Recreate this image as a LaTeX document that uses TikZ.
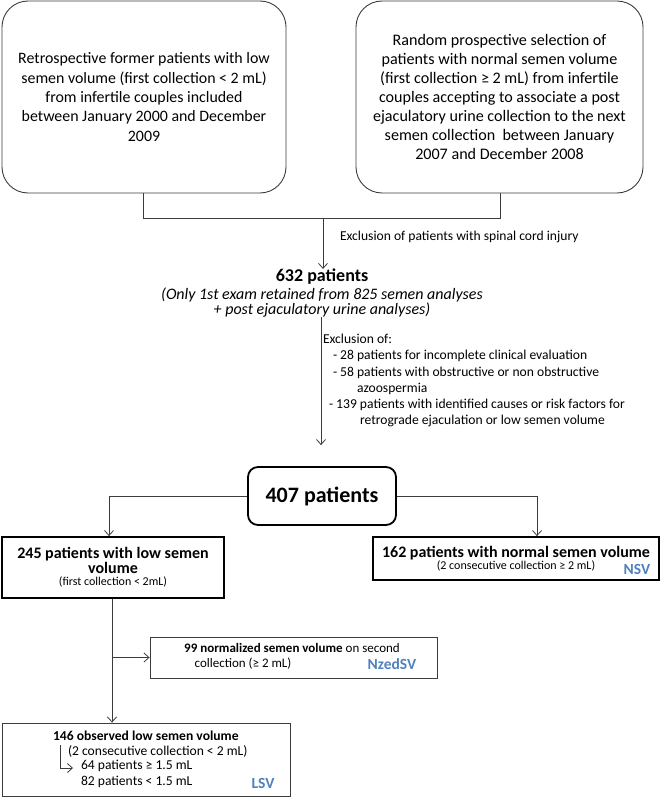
\documentclass[tikz,border=0pt]{standalone}
\usepackage{fontspec}
\setmainfont{Carlito}
\usetikzlibrary{arrows.meta}
\definecolor{lblblue}{RGB}{79,129,189}
\definecolor{linegray}{RGB}{60,60,60}
\newcommand{\fs}[2]{\fontsize{#1}{#2}\selectfont}
\tikzset{
  topbox/.style={draw=linegray, line width=0.9pt, rounded corners=26pt, align=center, inner sep=0pt},
  thickbox/.style={draw=black, line width=1.8pt, align=center, inner sep=0pt},
  thinbox/.style={draw=linegray, line width=0.9pt, inner sep=0pt},
  conn/.style={draw=linegray, line width=0.8pt},
  arr/.style={conn, -{Straight Barb[length=5pt,width=9pt]}},
  txt/.style={inner sep=0pt, outer sep=0pt},
  tag/.style={txt, text=lblblue, font=\fs{15.5}{18}\bfseries},
}
\begin{document}
\begin{tikzpicture}[x=1pt,y=-1pt]
\useasboundingbox (0,0) rectangle (660,797);
% top boxes
\node[topbox, minimum width=284pt, minimum height=192pt, font=\fs{15.9}{19.3}] (retro) at (144,97)
  {Retrospective former patients with low\\ semen volume (first collection < 2 mL)\\ from infertile couples included\\ between January 2000 and December\\ 2009};
\node[topbox, minimum width=287pt, minimum height=192pt, font=\fs{16.1}{19}] (prosp) at (499.5,97)
  {Random prospective selection of\\ patients with normal semen volume\\ (first collection ≥ 2 mL) from infertile\\ couples accepting to associate a post\\ ejaculatory urine collection to the next\\ semen collection \ between January\\ 2007 and December 2008};
% merge bracket
\coordinate (jl) at (143,218);
\coordinate (jr) at (500,218);
\coordinate (jm) at (323,218);
\draw[conn] (retro.south -| jl) -- (jl) -- (jr) -- (prosp.south -| jr);
\node[txt, anchor=west, font=\fs{13.6}{15}] (excl1) at (340,237) {Exclusion of patients with spinal cord injury};
% 632
\node[txt, align=center] (n632) at (322,293)
  {{\fs{18}{20}\bfseries 632 patients}\\[2pt]
   {\fs{16}{19.5}\itshape (Only 1st exam retained from 825 semen analyses}\\
   {\fs{16}{19.5}\itshape + post ejaculatory urine analyses)}};
\draw[arr] (jm) -- (jm |- n632.north);
% exclusion list
\node[txt, anchor=north west, align=left, font=\fs{13.6}{16.3}] (excl2) at (323,334)
  {Exclusion of:\\
   \hspace*{10pt}- 28 patients for incomplete clinical evaluation\\
   \hspace*{10pt}- 58 patients with obstructive or non obstructive\\
   \hspace*{34pt}azoospermia\\
   \hspace*{6pt}- 139 patients with identified causes or risk factors for\\
   \hspace*{37pt}retrograde ejaculation or low semen volume};
% 407
\node[thickbox, rounded corners=10pt, minimum width=148pt, minimum height=58pt, font=\fs{22}{24}\bfseries] (n407) at (322,496) {407 patients};
\coordinate (ax) at (321,0);
\draw[arr, shorten >=21pt] (n632.south -| ax) -- (n407.north -| ax);
% 245
\node[thickbox, minimum width=222pt, minimum height=61pt] (n245) at (113,567.5)
  {\fs{16}{19}\bfseries 245 patients with low semen\\ \fs{16}{18}\bfseries volume\\ \fs{12}{13}(first collection < 2mL)};
% 162
\node[thickbox, minimum width=286pt, minimum height=43pt] (n162) at (516,558.5)
  {\fs{16}{17}\bfseries 162 patients with normal semen volume\\ \fs{12}{13}(2 consecutive collection ≥ 2 mL)};
\node[tag] (nsv) at (637,569) {NSV};
\coordinate (lx) at (109,0);
\coordinate (rx) at (537,0);
\coordinate (bl) at (n407.west -| lx);
\coordinate (br) at (n407.east -| rx);
\draw[conn] (n407.west) -- (bl);
\draw[arr] (bl) -- (bl |- n245.north);
\draw[conn] (n407.east) -- (br);
\draw[arr] (br) -- (br |- n162.north);
% 99
\node[thinbox, minimum width=287pt, minimum height=41pt] (n99) at (293.5,657.5) {};
\node[txt, align=center, font=\fs{13}{15}] (t99) at (292,656.5)
  {\textbf{99 normalized semen volume} on second\\ collection (≥ 2 mL)\hspace*{98pt}};
\node[tag] (nzed) at (392,664) {NzedSV};
% 146
\node[thinbox, minimum width=288pt, minimum height=73pt] (n146) at (146,759.5) {};
\node[txt, anchor=west, font=\fs{13.6}{15}\bfseries] (t146a) at (53,736) {146 observed low semen volume};
\node[txt, anchor=west, font=\fs{13.6}{15}] (t146b) at (68,751) {(2 consecutive collection < 2 mL)};
\node[txt, anchor=west, font=\fs{13.6}{15}] (t146c) at (81,766) {64 patients ≥ 1.5 mL};
\node[txt, anchor=west, font=\fs{13.6}{15}] (t146d) at (81,782) {82 patients < 1.5 mL};
\node[tag] (lsv) at (263,783) {LSV};
\coordinate (vx) at (112,0);
\coordinate (sb) at (n245.south -| vx);
\coordinate (sj) at (n99.west -| vx);
\draw[arr] (sb) -- (sb |- n146.north);
\draw[arr] (sj) -- (n99.west);
\coordinate (ba) at (60,745);
\coordinate (bb) at (60,768);
\coordinate (bc) at (73,768);
\draw[arr] (ba) -- (bb) -- (bc);
\end{tikzpicture}
\end{document}
